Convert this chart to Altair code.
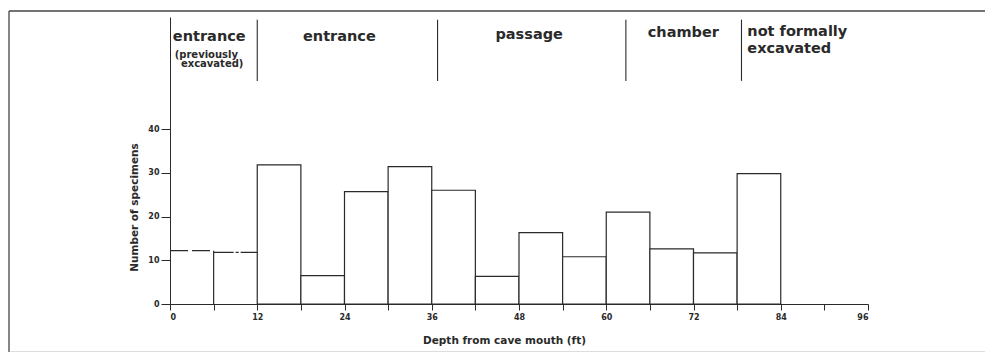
import altair as alt
import pandas as pd

# ---- data ----
bin_start = [0, 6, 12, 18, 24, 30, 36, 42, 48, 54, 60, 66, 72, 78]
counts = [12.2, 11.8, 31.8, 6.5, 25.7, 31.4, 26.0, 6.3, 16.3, 10.8, 21.0, 12.6, 11.7, 29.8]
bin_width = 6

region_bounds = [12, 36.8, 62.7, 78.6]
region_titles = ["entrance", "entrance", "passage", "chamber", "not formally", "excavated"]
region_title_x = [5.4, 23.3, 49.4, 70.6, 79.4, 79.4]
region_title_y = [61.0, 61.0, 61.5, 62.0, 62.2, 58.4]
region_title_align = ["center", "center", "center", "center", "left", "left"]
sub_titles = ["(previously", "excavated)"]
sub_title_x = [5.0, 5.8]
sub_title_y = [57.0, 54.8]

x_ticks = list(range(0, 97, 6))
y_ticks = [0, 10, 20, 30, 40]

INK = "#2a2a2a"
FONT = "DejaVu Sans"

df = pd.DataFrame({"start": bin_start, "count": counts})
df["end"] = df["start"] + bin_width
solid = df.iloc[2:]
first = df.iloc[[0]]
second = df.iloc[[1]]

xs = alt.Scale(domain=[0, 96], nice=False, zero=False)
ys = alt.Scale(domain=[0, 65.6], nice=False, zero=False)

x_axis = alt.Axis(
    values=x_ticks,
    labelExpr="datum.value % 12 === 0 ? datum.label : ''",
    tickSize=6, labelPadding=3, labelFontSize=8, labelFont=FONT, labelFontWeight="bold",
    labelColor=INK, domainColor=INK, tickColor=INK, grid=False,
    title="Depth from cave mouth (ft)", titleFont=FONT, titleFontSize=10.5,
    titleFontWeight="bold", titleColor=INK, titleX=334, titleY=36,
    titleAlign="center", titleBaseline="middle",
)
y_axis = alt.Axis(
    values=y_ticks, tickSize=9, labelPadding=2, labelFontSize=8, labelFont=FONT,
    labelFontWeight="bold", labelColor=INK, domainColor=INK, tickColor=INK, grid=False,
    title="Number of specimens", titleFont=FONT, titleFontSize=10.5, titleFontWeight="bold",
    titleColor=INK, titleX=-36, titleY=190, titleAngle=-90, titleAlign="center",
    titleBaseline="middle",
)

bars = alt.Chart(solid).mark_rect(fill="white", stroke=INK, strokeWidth=1.2).encode(
    x=alt.X("start:Q", scale=xs, axis=x_axis),
    x2="end:Q",
    y=alt.Y("count:Q", scale=ys, axis=y_axis),
    y2=alt.datum(0),
)

top1 = alt.Chart(first).mark_rule(color=INK, strokeWidth=1.2, strokeDash=[18, 4]).encode(
    x=alt.X("start:Q", scale=xs), x2="end:Q", y=alt.Y("count:Q", scale=ys)
)
top2 = alt.Chart(second).mark_rule(color=INK, strokeWidth=1.2, strokeDash=[20, 2, 3, 2]).encode(
    x=alt.X("start:Q", scale=xs), x2="end:Q", y=alt.Y("count:Q", scale=ys)
)
side = alt.Chart(first).mark_rule(color=INK, strokeWidth=1.2).encode(
    x=alt.X("end:Q", scale=xs), y=alt.Y("count:Q", scale=ys), y2=alt.datum(0)
)

bounds = alt.Chart(pd.DataFrame({"x": region_bounds})).mark_rule(color=INK, strokeWidth=1.1).encode(
    x=alt.X("x:Q", scale=xs), y=alt.datum(51), y2=alt.datum(65)
)

titles_df = pd.DataFrame({"t": region_titles, "x": region_title_x, "y": region_title_y,
                          "a": region_title_align})
titles_c = alt.Chart(titles_df[titles_df.a == "center"]).mark_text(
    font=FONT, fontSize=14.5, fontWeight="bold", color=INK, align="center", baseline="middle"
).encode(x=alt.X("x:Q", scale=xs), y=alt.Y("y:Q", scale=ys), text="t:N")
titles_l = alt.Chart(titles_df[titles_df.a == "left"]).mark_text(
    font=FONT, fontSize=14.5, fontWeight="bold", color=INK, align="left", baseline="middle"
).encode(x=alt.X("x:Q", scale=xs), y=alt.Y("y:Q", scale=ys), text="t:N")

subs = alt.Chart(pd.DataFrame({"t": sub_titles, "x": sub_title_x, "y": sub_title_y})).mark_text(
    font=FONT, fontSize=10, fontWeight="bold", color=INK, align="center", baseline="middle"
).encode(x=alt.X("x:Q", scale=xs), y=alt.Y("y:Q", scale=ys), text="t:N")

one = pd.DataFrame({"a": [0]})
frame_left = alt.Chart(one).mark_rule(color="#444", strokeWidth=1.3).encode(
    x=alt.value(-161), y=alt.value(-6), y2=alt.value(335))
frame_top = alt.Chart(one).mark_rule(color="#444", strokeWidth=1.3).encode(
    x=alt.value(-161), x2=alt.value(815), y=alt.value(-6))
frame_bottom = alt.Chart(one).mark_rule(color="#bbb", strokeWidth=1.0).encode(
    x=alt.value(-161), x2=alt.value(815), y=alt.value(335))

chart = alt.layer(
    bars, top1, top2, side, bounds, titles_c, titles_l, subs,
    frame_left, frame_top, frame_bottom,
).properties(
    width=698, height=287,
    padding={"left": 0, "top": 2, "right": 0, "bottom": 0},
).configure_view(stroke=None)

chart.save("out.html", embed_options={"renderer": "svg", "actions": False})
